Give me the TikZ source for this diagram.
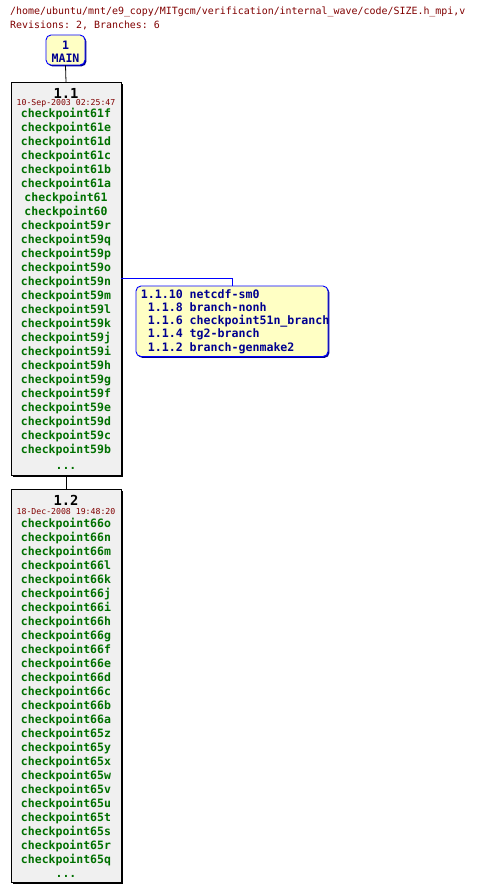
\documentclass[tikz,border=0pt]{standalone}
\usepackage{fontspec}
\setmonofont{DejaVu Sans Mono}
\usetikzlibrary{shadows}
\definecolor{hdrred}{HTML}{800000}
\definecolor{taggreen}{HTML}{007000}
\definecolor{revblue}{HTML}{000090}
\definecolor{boxyellow}{HTML}{FFFFC4}
\definecolor{boxgrey}{HTML}{F0F0F0}
\begin{document}
\begin{tikzpicture}[
    x=1pt, y=-1pt,
    font=\ttfamily,
    header/.style={anchor=west, inner sep=0pt, text=hdrred, font=\fontsize{9.95}{11}\ttfamily},
    revbox/.style={draw=black, fill=boxgrey, line width=0.9pt, inner sep=0pt,
                   drop shadow={shadow xshift=1.6pt, shadow yshift=-1.6pt, fill=black, opacity=1}},
    branchbox/.style={draw=blue, fill=boxyellow, line width=0.9pt, rounded corners=5pt, inner sep=0pt,
                   drop shadow={shadow xshift=1.4pt, shadow yshift=-1.4pt, fill=revblue, opacity=1}},
    revnum/.style={inner sep=0pt, font=\fontsize{13.8}{15}\ttfamily\bfseries},
    revdate/.style={inner sep=0pt, text=hdrred, font=\fontsize{8.2}{9}\ttfamily},
    tag/.style={inner sep=0pt, text=taggreen, font=\fontsize{11.5}{13}\ttfamily\bfseries},
    brtext/.style={inner sep=0pt, text=revblue, font=\fontsize{11.6}{13}\ttfamily\bfseries},
    link/.style={draw=black, line width=0.8pt},
  ]
  \useasboundingbox (0,0) rectangle (476,893);
  % file header
  \node[header] (file) at (10,12) {/home/ubuntu/mnt/e9\_copy/MITgcm/verification/internal\_wave/code/SIZE.h\_mpi,v};
  \node[header] (info) at (10,25) {Revisions: 2, Branches: 6};
  % trunk head
  \node[branchbox, minimum width=39pt, minimum height=30pt] (main) at (65.5,50) {};
  \node[brtext] (mainnum) at (65.5,45) {1};
  \node[brtext] (mainname) at (65.5,58) {MAIN};
  % revision 1.1
  \node[revbox, minimum width=110pt, minimum height=392.5pt] (r11) at (66,278.75) {};
  \node[revnum] (r11num) at (66,93) {1.1};
  \node[revdate] (r11date) at (66,103.5) {10-Sep-2003 02:25:47};
  \foreach \t [count=\i] in {checkpoint61f,checkpoint61e,checkpoint61d,checkpoint61c,
      checkpoint61b,checkpoint61a,checkpoint61,checkpoint60,checkpoint59r,checkpoint59q,
      checkpoint59p,checkpoint59o,checkpoint59n,checkpoint59m,checkpoint59l,checkpoint59k,
      checkpoint59j,checkpoint59i,checkpoint59h,checkpoint59g,checkpoint59f,checkpoint59e,
      checkpoint59d,checkpoint59c,checkpoint59b}
    \node[tag] (a\i) at (66,100+14*\i) {\t};
  \node[tag] (r11more) at (66,468) {...};
  % revision 1.2
  \node[revbox, minimum width=110pt, minimum height=393pt] (r12) at (66,686) {};
  \node[revnum] (r12num) at (66,500.5) {1.2};
  \node[revdate] (r12date) at (66,511.5) {18-Dec-2008 19:48:20};
  \foreach \t [count=\i] in {checkpoint66o,checkpoint66n,checkpoint66m,checkpoint66l,
      checkpoint66k,checkpoint66j,checkpoint66i,checkpoint66h,checkpoint66g,checkpoint66f,
      checkpoint66e,checkpoint66d,checkpoint66c,checkpoint66b,checkpoint66a,checkpoint65z,
      checkpoint65y,checkpoint65x,checkpoint65w,checkpoint65v,checkpoint65u,checkpoint65t,
      checkpoint65s,checkpoint65r,checkpoint65q}
    \node[tag] (b\i) at (66,510+14*\i) {\t};
  \node[tag] (r12more) at (66,876) {...};
  % branches off 1.1
  \node[branchbox, minimum width=192pt, minimum height=70.5pt] (br) at (232,321.25) {};
  \foreach \r/\n [count=\i] in {1.1.10/netcdf-sm0,1.1.8/branch-nonh,1.1.6/checkpoint51n\_branch,
      1.1.4/tg2-branch,1.1.2/branch-genmake2} {
    \node[brtext, anchor=mid east] (brr\i) at (183,283+13.2*\i) {\r};
    \node[brtext, anchor=mid west] (brn\i) at (189.5,283+13.2*\i) {\n};
  }
  % connectors
  \draw[link] (main.south) -- (r11.north);
  \draw[link] (r11.south) -- (r12.north);
  \draw[link, draw=blue] (r11.east) -| (br.north);
\end{tikzpicture}
\end{document}
